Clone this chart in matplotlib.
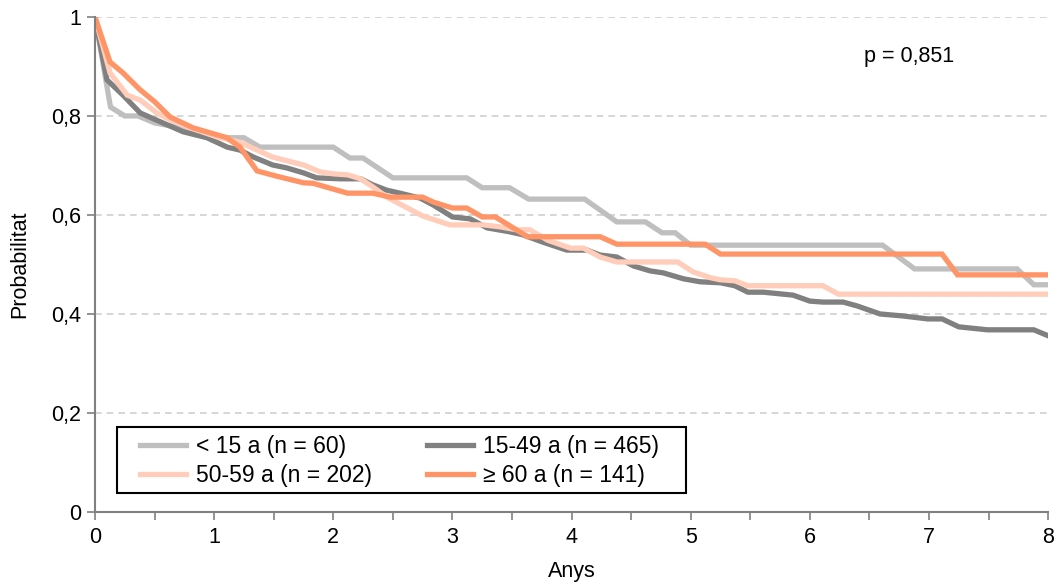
import matplotlib.pyplot as plt
from matplotlib.patches import Rectangle
from matplotlib.ticker import FuncFormatter, MultipleLocator

# Kaplan-Meier style curves (years, probability)
x_lt15 = [0, 0.13, 0.25, 0.36, 0.5, 0.63, 0.9, 1.1, 1.25, 1.385, 2.0, 2.14, 2.25, 2.5,
          3.12, 3.25, 3.48, 3.64, 4.11, 4.38, 4.62, 4.76, 4.87, 5.0, 6.61, 6.88, 7.74,
          7.88, 8.0]
y_lt15 = [1.0, 0.818, 0.80, 0.80, 0.786, 0.78, 0.765, 0.756, 0.756, 0.737, 0.737, 0.715,
          0.715, 0.675, 0.675, 0.655, 0.655, 0.632, 0.632, 0.586, 0.586, 0.564, 0.564,
          0.539, 0.539, 0.491, 0.491, 0.459, 0.459]

x_15_49 = [0, 0.1, 0.235, 0.38, 0.55, 0.74, 0.94, 1.11, 1.217, 1.33, 1.49, 1.61, 1.75,
           1.86, 2.06, 2.23, 2.33, 2.45, 2.56, 2.73, 2.84, 3.0, 3.15, 3.29, 3.48, 3.59,
           3.76, 3.96, 4.13, 4.24, 4.38, 4.52, 4.66, 4.77, 4.94, 5.08, 5.25, 5.37, 5.48,
           5.61, 5.86, 6.0, 6.11, 6.28, 6.40, 6.59, 6.78, 6.99, 7.11, 7.25, 7.49, 7.88,
           8.0]
y_15_49 = [1.0, 0.873, 0.842, 0.806, 0.788, 0.768, 0.756, 0.737, 0.731, 0.717, 0.701,
           0.695, 0.685, 0.675, 0.673, 0.673, 0.661, 0.650, 0.644, 0.634, 0.620, 0.596,
           0.592, 0.574, 0.566, 0.560, 0.545, 0.529, 0.529, 0.519, 0.515, 0.497, 0.487,
           0.483, 0.471, 0.465, 0.463, 0.457, 0.444, 0.444, 0.438, 0.426, 0.424, 0.424,
           0.416, 0.400, 0.396, 0.390, 0.390, 0.374, 0.368, 0.368, 0.356]

x_50_59 = [0, 0.126, 0.27, 0.38, 0.52, 0.63, 0.80, 1.02, 1.217, 1.36, 1.49, 1.75, 1.89,
           2.0, 2.12, 2.23, 2.33, 2.45, 2.56, 2.75, 2.98, 3.26, 3.40, 3.54, 3.65, 3.80,
           3.99, 4.10, 4.24, 4.38, 4.89, 5.02, 5.17, 5.25, 5.37, 5.48, 6.11, 6.24, 8.0]
y_50_59 = [1.0, 0.887, 0.842, 0.832, 0.806, 0.792, 0.776, 0.758, 0.747, 0.731, 0.717,
           0.701, 0.687, 0.683, 0.681, 0.673, 0.657, 0.636, 0.622, 0.598, 0.580, 0.580,
           0.576, 0.570, 0.570, 0.549, 0.533, 0.533, 0.515, 0.505, 0.505, 0.485, 0.473,
           0.469, 0.467, 0.457, 0.457, 0.440, 0.440]

x_ge60 = [0, 0.126, 0.235, 0.378, 0.504, 0.63, 0.823, 1.108, 1.217, 1.36, 1.53, 1.75,
          1.83, 2.12, 2.33, 2.48, 2.75, 2.84, 3.0, 3.12, 3.25, 3.36, 3.47, 3.63, 4.24,
          4.38, 5.12, 5.25, 7.11, 7.24, 8.0]
y_ge60 = [1.0, 0.909, 0.887, 0.853, 0.828, 0.798, 0.776, 0.756, 0.737, 0.689, 0.678,
          0.665, 0.664, 0.644, 0.644, 0.636, 0.636, 0.626, 0.614, 0.614, 0.596, 0.596,
          0.580, 0.556, 0.556, 0.541, 0.541, 0.521, 0.521, 0.479, 0.479]

labels = ["< 15 a (n = 60)", "15-49 a (n = 465)", "50-59 a (n = 202)", "≥ 60 a (n = 141)"]
colors = ["#BFBFBF", "#808080", "#FFCDB9", "#FF9466"]
p_text = "p = 0,851"

plt.rcParams["font.family"] = ["Liberation Sans", "DejaVu Sans"]
FS = 15.5

fig = plt.figure(figsize=(10.59, 5.84), dpi=100)
ax = fig.add_axes([0.0897, 0.1233, 0.9, 0.8477])

series = [(x_lt15, y_lt15), (x_15_49, y_15_49), (x_50_59, y_50_59), (x_ge60, y_ge60)]
handles = []
for (xs, ys), lab, col in zip(series, labels, colors):
    (ln,) = ax.plot(xs, ys, color=col, linewidth=3.8, label=lab, solid_joinstyle="miter")
    handles.append(ln)

ax.set_xlim(0, 8)
ax.set_ylim(0, 1)

ax.yaxis.set_major_locator(MultipleLocator(0.2))
ax.xaxis.set_major_locator(MultipleLocator(1))
ax.xaxis.set_minor_locator(MultipleLocator(0.5))


def comma_fmt(v, pos):
    if abs(v - round(v)) < 1e-9:
        return "%d" % round(v)
    return ("%.1f" % v).replace(".", ",")


ax.yaxis.set_major_formatter(FuncFormatter(comma_fmt))

ax.grid(True, axis="y", color="#D0D0D0", linestyle=(0, (4, 3)), linewidth=1.2)
ax.set_axisbelow(True)

for side in ["top", "right"]:
    ax.spines[side].set_visible(False)
for side in ["left", "bottom"]:
    ax.spines[side].set_color("#808080")
    ax.spines[side].set_linewidth(1.5)

ax.tick_params(axis="both", which="both", color="#808080", width=1.2, labelsize=FS,
               labelcolor="black")
ax.tick_params(axis="y", length=6, pad=4)
ax.tick_params(axis="x", which="major", length=6, pad=5)
ax.tick_params(axis="x", which="minor", length=6)

ax.set_xlabel("Anys", fontsize=FS)
ax.set_ylabel("Probabilitat", fontsize=FS)
ax.xaxis.set_label_coords(0.5, -0.100)
ax.yaxis.set_label_coords(-0.068, 0.5)

ax.text(6.83, 0.921, p_text, fontsize=FS, ha="center", va="center")

# legend box drawn by hand so the padding matches; Excel fills it row by row
ax.add_patch(Rectangle((0.0231, 0.0384), 0.5969, 0.1333, transform=ax.transAxes,
                       facecolor="white", edgecolor="black", linewidth=1.5, zorder=4))
order = [0, 2, 1, 3]
leg = ax.legend([handles[i] for i in order], [labels[i] for i in order],
                loc="center left", bbox_to_anchor=(0.047, 0.103), ncol=2,
                frameon=False, borderaxespad=0, borderpad=0,
                prop={"size": 16.5}, handlelength=2.0, columnspacing=2.4,
                labelspacing=0.28, handletextpad=0.45)
leg.set_zorder(5)

fig.savefig("out.png", dpi=100)
